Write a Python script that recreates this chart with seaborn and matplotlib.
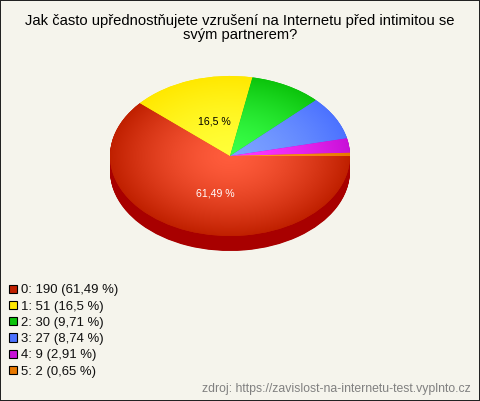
import matplotlib
matplotlib.use("Agg")
import matplotlib.pyplot as plt
import numpy as np
import seaborn as sns
from matplotlib.colors import LinearSegmentedColormap
from matplotlib.patches import Patch, Rectangle

categories = ["0", "1", "2", "3", "4", "5"]
counts = [190, 51, 30, 27, 9, 2]
percents = ["61,49", "16,5", "9,71", "8,74", "2,91", "0,65"]

title = "Jak často upřednostňujete vzrušení na Internetu před intimitou se\nsvým partnerem?"
source = "zdroj: https://zavislost-na-internetu-test.vyplnto.cz"

# legend / rim colours, then the lighter colour in the middle of the pie
rim_colors = ["#c02000", "#ffe800", "#0cc40c", "#4c72ff", "#c810d8", "#e87800"]
center_colors = ["#ff5c3c", "#ffff38", "#38ff48", "#7ca2ff", "#ff38ff", "#ffa020"]
side_colors = ["#a80000", "#c8b400", "#088c08", "#3050c0", "#900c9c", "#b05c00"]

sns.set_theme(style="white")
plt.rcParams["font.family"] = ["Liberation Sans", "DejaVu Sans"]

bg = "#f5f4ec"
fig = plt.figure(figsize=(4.8, 4.01), dpi=100, facecolor=bg)
ax = fig.add_axes([0, 0, 1, 1])
ax.axis("off")

flat = {"linewidth": 0}

# 3d rim first, stacked downwards
for offset in np.arange(15, 0, -0.5):
    ax.pie(counts, colors=side_colors, startangle=0, counterclock=False,
           center=(0, -offset / 80), radius=1, frame=False, wedgeprops=flat)

wedges, _ = ax.pie(counts, colors=rim_colors, startangle=0, counterclock=False,
                   center=(0, 0), radius=1, frame=False, wedgeprops=flat)

# radial shading, clipped to every wedge
xx, yy = np.meshgrid(np.linspace(-1.05, 1.05, 500), np.linspace(-1.05, 1.05, 500))
dist = np.clip(np.hypot(xx, yy), 0, 1) ** 1.5
for wedge, rim, mid in zip(wedges, rim_colors, center_colors):
    cmap = LinearSegmentedColormap.from_list("shade", [mid, rim])
    im = ax.imshow(dist, cmap=cmap, vmin=0, vmax=1, origin="lower", aspect="auto",
                   extent=(-1.05, 1.05, -1.05, 1.05), zorder=3)
    im.set_clip_path(wedge)

ax.set_aspect("auto")
ax.set_xlim(-230 / 120, 250 / 120)
ax.set_ylim((156 - 401) / 80, 156 / 80)

ax.text(-0.13, 0.43, f"{percents[1]} %", color="black", fontsize=7.6,
        ha="center", va="center", zorder=4)
ax.text(-0.12, -0.47, f"{percents[0]} %", color="white", fontsize=7.6,
        ha="center", va="center", zorder=4)

fig.text(0.5, 1 - 28 / 401, title, ha="center", va="center", fontsize=10.67,
         color="black", linespacing=1.07)
fig.text(471 / 480, 1 - 389 / 401, source, ha="right", va="center",
         fontsize=8.85, color="#808080")

handles = [Patch(facecolor=c, edgecolor="black", linewidth=0.8) for c in rim_colors]
labels = [f"{c}: {n} ({p} %)" for c, n, p in zip(categories, counts, percents)]
fig.legend(handles, labels, loc="upper left", bbox_to_anchor=(9 / 480, 1 - 284.5 / 401),
           frameon=False, fontsize=9.45, handlelength=0.6, handleheight=0.6,
           handletextpad=0.3, labelspacing=0.32, borderpad=0, borderaxespad=0,
           labelcolor="#111111")

# thin dark frame round the whole picture, half of the stroke falls outside
fig.add_artist(Rectangle((0, 0), 1, 1, fill=False, edgecolor="#222222",
                         linewidth=1.44, transform=fig.transFigure))

fig.savefig("out.png", dpi=100, facecolor=bg)
